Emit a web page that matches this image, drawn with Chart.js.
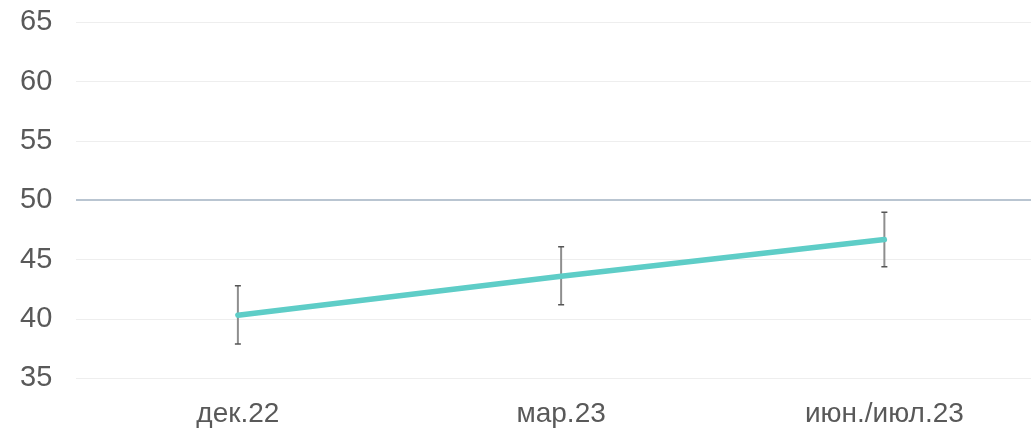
<!DOCTYPE html>
<html>
<head>
<meta charset="utf-8">
<script src="https://cdn.jsdelivr.net/npm/chart.js@4"></script>
<style>
  html, body { margin: 0; padding: 0; background: #fff; overflow: hidden; }
  #wrap { width: 1050px; height: 469px; position: relative; top: -19px; left: -4px; }
</style>
</head>
<body>
<div id="wrap">
  <canvas id="surveyChart"></canvas>
</div>

<script>
  // Chart data
  const periods = ['дек.22', 'мар.23', 'июн./июл.23'];
  const indexValues = [40.33, 43.6, 46.7];
  const lowerBounds = [37.9, 41.2, 44.4];
  const upperBounds = [42.8, 46.1, 49.0];
  const yTicks = [35, 40, 45, 50, 55, 60, 65];

  // error bars, drawn under the line
  const errorBarPlugin = {
    id: 'errorBars',
    beforeDatasetsDraw(chart) {
      const ctx = chart.ctx;
      const xs = chart.scales.x;
      const ys = chart.scales.y;
      periods.forEach((p, i) => {
        const x = xs.getPixelForValue(i);
        const yTop = ys.getPixelForValue(upperBounds[i]);
        const yBot = ys.getPixelForValue(lowerBounds[i]);
        ctx.save();
        ctx.strokeStyle = '#8e8e8e';
        ctx.lineWidth = 2;
        ctx.beginPath();
        ctx.moveTo(x, yTop);
        ctx.lineTo(x, yBot);
        ctx.stroke();
        ctx.strokeStyle = '#555';
        ctx.lineWidth = 1.5;
        ctx.beginPath();
        ctx.moveTo(x - 3, yTop);
        ctx.lineTo(x + 3, yTop);
        ctx.moveTo(x - 3, yBot);
        ctx.lineTo(x + 3, yBot);
        ctx.stroke();
        ctx.restore();
      });
    }
  };

  new Chart(document.getElementById('surveyChart'), {
    type: 'line',
    data: {
      labels: periods,
      datasets: [{
        data: indexValues,
        borderColor: '#5ecdc7',
        borderWidth: 5.5,
        borderCapStyle: 'round',
        pointRadius: 0,
        tension: 0,
        fill: false
      }]
    },
    options: {
      responsive: true,
      maintainAspectRatio: false,
      animation: false,
      layout: { padding: { left: 0, top: 3, right: 0, bottom: 0 } },
      plugins: {
        legend: { display: false },
        tooltip: { enabled: false }
      },
      scales: {
        x: {
          offset: true,
          grid: { display: false, drawTicks: false },
          border: { display: false },
          ticks: {
            color: '#595959',
            padding: 19,
            font: { family: 'Liberation Sans', size: 28 }
          }
        },
        y: {
          min: 35,
          max: 65,
          afterBuildTicks(axis) {
            axis.ticks = yTicks.map(v => ({ value: v }));
          },
          grid: {
            drawTicks: false,
            color: ctx => ctx.tick && ctx.tick.value === 50 ? '#b9c5d1' : '#eeeeee',
            lineWidth: ctx => ctx.tick && ctx.tick.value === 50 ? 2 : 1
          },
          border: { display: false },
          ticks: {
            color: '#595959',
            padding: 24,
            font: { family: 'Liberation Sans', size: 29 }
          }
        }
      }
    },
    plugins: [errorBarPlugin]
  });
</script>
</body>
</html>
